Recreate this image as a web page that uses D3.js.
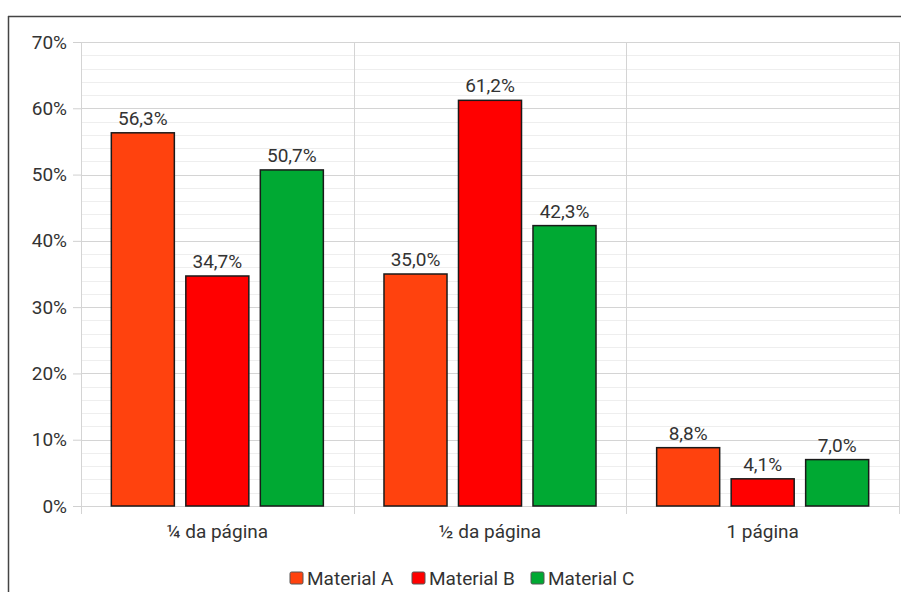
<!DOCTYPE html>
<html>
<head>
<meta charset="utf-8">
<script src="https://cdn.jsdelivr.net/npm/d3@7"></script>
<style>
  body { margin: 0; background: #fff; }
  svg { display: block; }
</style>
</head>
<body>
<div id="chart"></div>
<script>
const categories = ["¼ da página", "½ da página", "1 página"];
const seriesNames = ["Material A", "Material B", "Material C"];
const materialA = [56.3, 35.0, 8.8];
const materialB = [34.7, 61.2, 4.1];
const materialC = [50.7, 42.3, 7.0];
const yTicks = [0, 10, 20, 30, 40, 50, 60, 70];
const colors = ["#ff420e", "#ff0000", "#00a933"];

const width = 901, height = 592;
const plotLeft = 81, plotRight = 899, plotTop = 42, plotBottom = 506;
const fontSize = "19px";

const svg = d3.select("#chart").append("svg")
   .attr("width", width)
   .attr("height", height)
   .style("font-family", "Roboto, 'Liberation Sans', sans-serif");

// frame (top + left edge visible)
svg.append("line").attr("x1", 8).attr("x2", width).attr("y1", 16.5).attr("y2", 16.5)
   .attr("stroke", "#444").attr("stroke-width", 1.5);
svg.append("line").attr("x1", 8.5).attr("x2", 8.5).attr("y1", 16).attr("y2", height)
   .attr("stroke", "#444").attr("stroke-width", 1.5);

const x = d3.scaleBand().domain(categories).range([plotLeft, plotRight]).padding(0);
const xInner = d3.scaleBand().domain(seriesNames).range([0, x.bandwidth()])
   .paddingInner(0.154).paddingOuter(0.407);
const y = d3.scaleLinear().domain([0, 70]).range([plotBottom, plotTop]);

// minor gridlines every 2%
const minor = d3.range(0, 71, 2).filter(v => v % 10 !== 0);
svg.append("g").selectAll("line").data(minor).enter().append("line")
   .attr("x1", plotLeft).attr("x2", plotRight)
   .attr("y1", d => Math.round(y(d)) + 0.5).attr("y2", d => Math.round(y(d)) + 0.5)
   .attr("stroke", "#eeeeee").attr("stroke-width", 1);

// major gridlines + ticks
const yAxis = d3.axisLeft(y).tickValues(yTicks).tickSize(8).tickPadding(6)
   .tickFormat(d => d + "%");
const gy = svg.append("g").attr("transform", "translate(" + plotLeft + ",0)").call(yAxis);
gy.select(".domain").remove();
gy.selectAll(".tick line").attr("stroke", "#d0d0d0");
gy.selectAll(".tick text").attr("fill", "#333").style("font-size", fontSize)
   .style("font-family", "Roboto, 'Liberation Sans', sans-serif");
svg.append("g").selectAll("line").data(yTicks).enter().append("line")
   .attr("x1", plotLeft).attr("x2", plotRight)
   .attr("y1", d => Math.round(y(d)) + 0.5).attr("y2", d => Math.round(y(d)) + 0.5)
   .attr("stroke", "#d4d4d4").attr("stroke-width", 1);

// vertical separators
const seps = [plotLeft].concat(categories.map(c => x(c) + x.bandwidth()));
svg.append("g").selectAll("line").data(seps).enter().append("line")
   .attr("x1", d => Math.round(d) + 0.5).attr("x2", d => Math.round(d) + 0.5)
   .attr("y1", plotTop).attr("y2", plotBottom + 8)
   .attr("stroke", "#d4d4d4").attr("stroke-width", 1);

// x labels
svg.append("g").selectAll("text").data(categories).enter().append("text")
   .attr("x", d => x(d) + x.bandwidth() / 2)
   .attr("y", plotBottom + 32)
   .attr("text-anchor", "middle")
   .attr("fill", "#333")
   .style("font-size", fontSize)
   .text(d => d);

// bars
const series = [materialA, materialB, materialC];
const rows = [];
series.forEach((vals, si) => {
   vals.forEach((v, ci) => rows.push({ s: seriesNames[si], si: si, c: categories[ci], v: v }));
});

const fmt = v => v.toFixed(1).replace(".", ",") + "%";

svg.append("g").selectAll("rect").data(rows).enter().append("rect")
   .attr("x", d => x(d.c) + xInner(d.s))
   .attr("y", d => y(d.v))
   .attr("width", xInner.bandwidth())
   .attr("height", d => plotBottom - y(d.v))
   .attr("fill", d => colors[d.si])
   .attr("stroke", "#1a1a1a")
   .attr("stroke-width", 1.5);

svg.append("g").selectAll("text").data(rows).enter().append("text")
   .attr("x", d => x(d.c) + xInner(d.s) + xInner.bandwidth() / 2)
   .attr("y", d => y(d.v) - 8)
   .attr("text-anchor", "middle")
   .attr("fill", "#333")
   .style("font-size", fontSize)
   .text(d => fmt(d.v));

// legend
const legend = svg.append("g");
const legX = [290, 412, 531];
seriesNames.forEach((name, i) => {
   const g = legend.append("g").attr("transform", "translate(" + legX[i] + ",572)");
   g.append("rect").attr("width", 13).attr("height", 12).attr("y", 0)
      .attr("fill", colors[i]).attr("stroke", "#555").attr("stroke-width", 1).attr("rx", 1.5);
   g.append("text").attr("x", 17).attr("y", 13)
      .attr("fill", "#333").style("font-size", fontSize).text(name);
});
</script>
</body>
</html>
